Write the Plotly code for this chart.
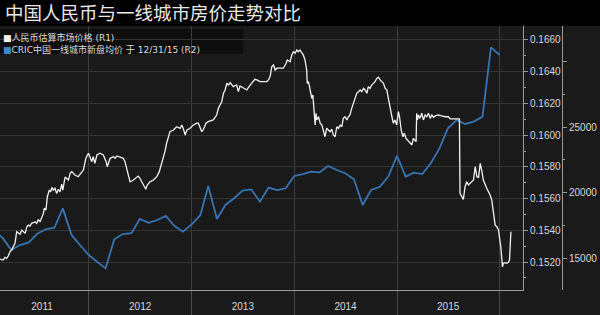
import pandas as pd
import plotly.graph_objects as go

# ---------------- data ----------------
title_text = "中国人民币与一线城市房价走势对比"
name_cny = "人民币估算市场价格 (R1)"
name_house = "CRIC中国一线城市新盘均价 于 12/31/15 (R2)"

# CNY price (R1)
cny_dates = [
    "2011-02-19", "2011-03-02", "2011-03-08", "2011-03-14", "2011-03-20", "2011-03-26", "2011-04-01",
    "2011-04-07", "2011-04-13", "2011-04-19", "2011-04-25", "2011-05-01", "2011-05-07", "2011-05-13",
    "2011-05-19", "2011-05-25", "2011-05-30", "2011-06-05", "2011-06-11", "2011-06-17", "2011-06-23",
    "2011-06-29", "2011-07-05", "2011-07-11", "2011-07-17", "2011-07-23", "2011-07-26", "2011-08-01",
    "2011-08-06", "2011-08-09", "2011-08-13", "2011-08-18", "2011-08-22", "2011-08-27", "2011-09-02",
    "2011-09-08", "2011-09-14", "2011-09-20", "2011-09-26", "2011-09-30", "2011-10-04", "2011-10-08",
    "2011-10-20", "2011-10-26", "2011-11-01", "2011-11-12", "2011-11-24", "2011-12-06", "2011-12-12",
    "2011-12-21", "2011-12-30", "2012-01-02", "2012-01-11", "2012-01-16", "2012-01-22", "2012-01-29",
    "2012-02-09", "2012-02-21", "2012-03-02", "2012-03-06", "2012-03-10", "2012-03-16", "2012-03-28",
    "2012-04-03", "2012-04-09", "2012-04-20", "2012-05-02", "2012-05-08", "2012-05-20", "2012-05-26",
    "2012-06-07", "2012-06-19", "2012-06-24", "2012-06-30", "2012-07-07", "2012-07-12", "2012-07-21",
    "2012-07-26", "2012-08-05", "2012-08-17", "2012-08-29", "2012-09-07", "2012-09-16", "2012-09-21",
    "2012-09-27", "2012-10-03", "2012-10-09", "2012-10-15", "2012-10-27", "2012-11-08", "2012-11-20",
    "2012-11-26", "2012-12-01", "2012-12-08", "2012-12-14", "2012-12-25", "2013-01-06", "2013-01-18",
    "2013-01-24", "2013-01-30", "2013-02-05", "2013-02-11", "2013-02-20", "2013-02-28", "2013-03-18",
    "2013-03-30", "2013-04-05", "2013-04-11", "2013-04-17", "2013-04-23", "2013-04-29", "2013-05-05",
    "2013-05-11", "2013-05-17", "2013-05-28", "2013-06-09", "2013-06-15", "2013-06-21", "2013-07-03",
    "2013-07-15", "2013-07-27", "2013-08-07", "2013-08-13", "2013-08-20", "2013-08-31", "2013-09-24",
    "2013-09-30", "2013-10-06", "2013-10-12", "2013-10-18", "2013-10-24", "2013-10-30", "2013-11-22",
    "2013-12-02", "2013-12-06", "2013-12-16", "2013-12-22", "2013-12-28", "2014-01-03", "2014-01-09",
    "2014-01-14", "2014-01-20", "2014-02-01", "2014-02-07", "2014-02-13", "2014-02-15", "2014-02-19",
    "2014-02-23", "2014-02-25", "2014-03-03", "2014-03-07", "2014-03-09", "2014-03-11", "2014-03-15",
    "2014-03-18", "2014-03-21", "2014-03-27", "2014-04-02", "2014-04-08", "2014-04-13", "2014-04-19",
    "2014-04-25", "2014-05-01", "2014-05-07", "2014-05-13", "2014-05-19", "2014-05-25", "2014-05-31",
    "2014-06-06", "2014-06-12", "2014-06-18", "2014-06-23", "2014-06-29", "2014-07-06", "2014-07-11",
    "2014-07-17", "2014-07-23", "2014-07-27", "2014-08-01", "2014-08-04", "2014-08-10", "2014-08-16",
    "2014-08-22", "2014-08-28", "2014-09-03", "2014-09-09", "2014-09-15", "2014-09-20", "2014-09-26",
    "2014-10-02", "2014-10-08", "2014-10-14", "2014-10-20", "2014-10-26", "2014-11-01", "2014-11-07",
    "2014-11-13", "2014-11-19", "2014-11-25", "2014-11-27", "2014-11-30", "2014-12-04", "2014-12-07",
    "2014-12-13", "2014-12-18", "2014-12-24", "2014-12-30", "2015-01-05", "2015-01-09", "2015-01-11",
    "2015-01-15", "2015-01-21", "2015-01-26", "2015-02-01", "2015-02-10", "2015-02-16", "2015-02-22",
    "2015-02-27", "2015-03-05", "2015-03-09", "2015-03-11", "2015-03-14", "2015-03-17", "2015-03-23",
    "2015-03-29", "2015-04-04", "2015-04-10", "2015-04-16", "2015-04-22", "2015-04-28", "2015-05-04",
    "2015-05-10", "2015-05-16", "2015-05-27", "2015-06-08", "2015-06-20", "2015-07-02", "2015-07-08",
    "2015-07-20", "2015-08-10", "2015-08-12", "2015-08-18", "2015-08-24", "2015-08-30", "2015-09-05",
    "2015-09-11", "2015-09-17", "2015-09-29", "2015-10-05", "2015-10-11", "2015-10-17", "2015-10-23",
    "2015-10-29", "2015-11-03", "2015-11-15", "2015-11-27", "2015-12-03", "2015-12-09", "2015-12-15",
    "2015-12-21", "2015-12-27", "2015-12-30", "2016-01-04", "2016-01-08", "2016-01-10", "2016-01-13",
    "2016-01-19", "2016-01-25", "2016-01-31", "2016-02-04", "2016-02-06", "2016-02-09",
]
cny_values = [
    0.15219, 0.15213, 0.15230, 0.15223, 0.15238, 0.15265, 0.15276,
    0.15297, 0.15318, 0.15391, 0.15381, 0.15375, 0.15402, 0.15391,
    0.15381, 0.15423, 0.15433, 0.15427, 0.15444, 0.15448, 0.15454,
    0.15444, 0.15469, 0.15454, 0.15486, 0.15507, 0.15539, 0.15528,
    0.15612, 0.15635, 0.15654, 0.15643, 0.15671, 0.15654, 0.15665,
    0.15633, 0.15659, 0.15643, 0.15692, 0.15654, 0.15696, 0.15736,
    0.15717, 0.15759, 0.15770, 0.15749, 0.15738, 0.15770, 0.15780,
    0.15854, 0.15886, 0.15875, 0.15833, 0.15864, 0.15822, 0.15875,
    0.15886, 0.15875, 0.15833, 0.15801, 0.15822, 0.15854, 0.15864,
    0.15854, 0.15869, 0.15860, 0.15854, 0.15833, 0.15738, 0.15706,
    0.15717, 0.15738, 0.15742, 0.15728, 0.15706, 0.15696, 0.15659,
    0.15686, 0.15706, 0.15717, 0.15738, 0.15770, 0.15822, 0.15864,
    0.15896, 0.15949, 0.15990, 0.16022, 0.16032, 0.16053, 0.16043,
    0.16064, 0.16043, 0.16001, 0.16032, 0.16043, 0.16064, 0.16075,
    0.16075, 0.16053, 0.16022, 0.16037, 0.16075, 0.16085, 0.16096,
    0.16127, 0.16169, 0.16190, 0.16211, 0.16264, 0.16285, 0.16327,
    0.16316, 0.16331, 0.16306, 0.16316, 0.16274, 0.16310, 0.16295,
    0.16285, 0.16316, 0.16337, 0.16352, 0.16348, 0.16337, 0.16337,
    0.16348, 0.16369, 0.16432, 0.16442, 0.16411, 0.16422, 0.16422,
    0.16453, 0.16474, 0.16463, 0.16505, 0.16526, 0.16516, 0.16537,
    0.16526, 0.16537, 0.16505, 0.16474, 0.16411, 0.16327, 0.16337,
    0.16306, 0.16285, 0.16232, 0.16253, 0.16201, 0.16127, 0.16064,
    0.16138, 0.16096, 0.16116, 0.16075, 0.16064, 0.16032, 0.15990,
    0.16043, 0.16032, 0.16022, 0.16037, 0.16001, 0.15990, 0.16053,
    0.16043, 0.16064, 0.16053, 0.16106, 0.16116, 0.16096, 0.16116,
    0.16127, 0.16169, 0.16190, 0.16211, 0.16232, 0.16264, 0.16274,
    0.16285, 0.16274, 0.16295, 0.16285, 0.16264, 0.16306, 0.16295,
    0.16316, 0.16327, 0.16337, 0.16358, 0.16365, 0.16348, 0.16337,
    0.16327, 0.16295, 0.16285, 0.16264, 0.16232, 0.16190, 0.16159,
    0.16116, 0.16075, 0.16096, 0.16064, 0.16148, 0.16116, 0.16085,
    0.16032, 0.15990, 0.16012, 0.15980, 0.15959, 0.15949, 0.15938,
    0.15980, 0.15969, 0.15959, 0.16138, 0.16096, 0.16127, 0.16106,
    0.16138, 0.16096, 0.16127, 0.16116, 0.16138, 0.16106, 0.16127,
    0.16113, 0.16121, 0.16127, 0.16121, 0.16116, 0.16116, 0.16102,
    0.16102, 0.16102, 0.15633, 0.15612, 0.15595, 0.15675, 0.15706,
    0.15686, 0.15696, 0.15717, 0.15801, 0.15738, 0.15734, 0.15822,
    0.15770, 0.15717, 0.15665, 0.15623, 0.15591, 0.15507, 0.15433,
    0.15423, 0.15402, 0.15360, 0.15297, 0.15213, 0.15170, 0.15192,
    0.15196, 0.15192, 0.15198, 0.15213, 0.15297, 0.15391,
]

# CRIC tier-1 city new home average price (R2), monthly, Jan 2011 - Dec 2015
house_months = pd.date_range("2011-01-31", "2015-12-31", freq="ME")
house_values = [
    17060, 16530, 15610, 15990, 16170, 16830, 17190, 17310, 18790, 16760, 15990, 15230,
    14690, 14210, 16430, 16830, 16890, 17980, 17690, 17900, 18210, 17440, 17010, 17570,
    18280, 20500, 17980, 19050, 19560, 20140, 20240, 19300, 20370, 20190, 20320, 21260,
    21400, 21590, 21540, 22020, 21720, 21470, 21010, 19050, 20190, 20440, 21210, 22790,
    21210, 21510, 21410, 22230, 23370, 24900, 25530, 25230, 25410, 25790, 31080, 30500,
]

year_labels = ["2011", "2012", "2013", "2014", "2015"]
year_label_dates = ["2011-07-18", "2012-07-01", "2013-07-01", "2014-07-01", "2015-07-01"]
year_starts = ["2012-01-01", "2013-01-01", "2014-01-01", "2015-01-01", "2016-01-01"]

r1_ticks = [0.1520, 0.1540, 0.1560, 0.1580, 0.1600, 0.1620, 0.1640, 0.1660]
r1_minor = [0.1510, 0.1530, 0.1550, 0.1570, 0.1590, 0.1610, 0.1630, 0.1650]
r2_ticks = [15000, 20000, 25000, 30000]
r2_ticktext = ["15000", "20000", "25000", ""]
r2_minor = [17500, 22500, 27500]

# ---------------- styling ----------------
BG = "#1a1a1a"
AXIS = "#9a9a9a"
GRID = "#343434"
TXT = "#d8d8d8"
WHITE = "#f2f2f2"
BLUE = "#3774b2"
FONT = "Liberation Sans, Arial, sans-serif"
CJK = "Noto Sans CJK SC"

fig = go.Figure()

fig.add_trace(go.Scatter(
    x=house_months, y=house_values, mode="lines", name=name_house,
    line=dict(color=BLUE, width=1.8), xaxis="x", yaxis="y", showlegend=False,
))
fig.add_trace(go.Scatter(
    x=cny_dates, y=cny_values, mode="lines", name=name_cny,
    line=dict(color=WHITE, width=1.3), xaxis="x", yaxis="y2", showlegend=False,
))

W, H = 600, 315
top, bottom = 26, 25
plot_h = H - top - bottom

fig.update_layout(
    width=W, height=H,
    margin=dict(l=0, r=0, t=top, b=bottom, pad=0),
    paper_bgcolor=BG, plot_bgcolor=BG,
    showlegend=False,
    font=dict(family=FONT, size=10, color=TXT),
    title=dict(
        text=title_text, font=dict(family=CJK, size=18.5, color="#e8e8e8"),
        x=5 / W, xref="container", xanchor="left",
        y=1 - 14 / H, yref="container", yanchor="middle",
    ),
    xaxis=dict(
        domain=[0, 523 / W], type="date",
        range=["2011-02-18 16:00", "2016-03-23"],
        showline=True, linecolor=AXIS, linewidth=1,
        showgrid=False, zeroline=False,
        tickmode="array", tickvals=year_label_dates, ticktext=year_labels,
        ticks="", ticklabelstandoff=7,
        tickfont=dict(family=FONT, size=10, color=TXT),
        minor=dict(tickmode="array", tickvals=year_starts, showgrid=True,
                   gridcolor="#3e3e3e", gridwidth=1, ticks="outside",
                   ticklen=25, tickcolor="#4a4a4a", tickwidth=1),
        anchor="y",
    ),
    yaxis=dict(
        side="right", anchor="free", position=562 / W,
        range=[12557, 32710],
        tickmode="array", tickvals=r2_ticks, ticktext=r2_ticktext,
        ticks="outside", ticklen=4, tickcolor=AXIS,
        showline=True, linecolor=AXIS, linewidth=1,
        showgrid=False, zeroline=False,
        minor=dict(tickmode="array", tickvals=r2_minor,
                   ticks="outside", ticklen=2, tickcolor=AXIS, showgrid=False),
        tickfont=dict(family=FONT, size=10, color=TXT),
    ),
    yaxis2=dict(
        overlaying="y", side="right", anchor="x",
        range=[0.15024, 0.16688],
        tickmode="array", tickvals=r1_ticks, tickformat=".4f",
        ticks="outside", ticklen=4, tickcolor=AXIS,
        showline=True, linecolor=AXIS, linewidth=1,
        showgrid=True, gridcolor=GRID, gridwidth=1, zeroline=False,
        minor=dict(tickmode="array", tickvals=r1_minor,
                   ticks="outside", ticklen=2, tickcolor=AXIS, showgrid=False),
        tickfont=dict(family=FONT, size=10, color=TXT),
    ),
)

# black title band
fig.add_shape(type="rect", xref="paper", yref="paper",
              x0=0, x1=1, y0=1, y1=1 + top / plot_h,
              fillcolor="#000000", line=dict(width=0), layer="below")

# legend box + entries (as text)
fig.add_shape(type="rect", xref="paper", yref="paper",
              x0=0, x1=212 / 523, y0=1 - (54 - top) / plot_h, y1=1 - (29 - top) / plot_h,
              fillcolor="#0e0e0e", line=dict(width=0), layer="below")

legend_text = (
    f'<span style="color:{WHITE}">■</span>{name_cny}<br>'
    f'<span style="color:#3f86d0">■</span>{name_house}'
)
fig.add_annotation(
    xref="paper", yref="paper", x=1 / 523, y=1 - (30 - top) / plot_h,
    xanchor="left", yanchor="top", showarrow=False, align="left",
    text=legend_text,
    font=dict(family="DejaVu Sans, Noto Sans CJK SC", size=9, color="#dcdcdc"),
)

fig.write_html("out.html")
